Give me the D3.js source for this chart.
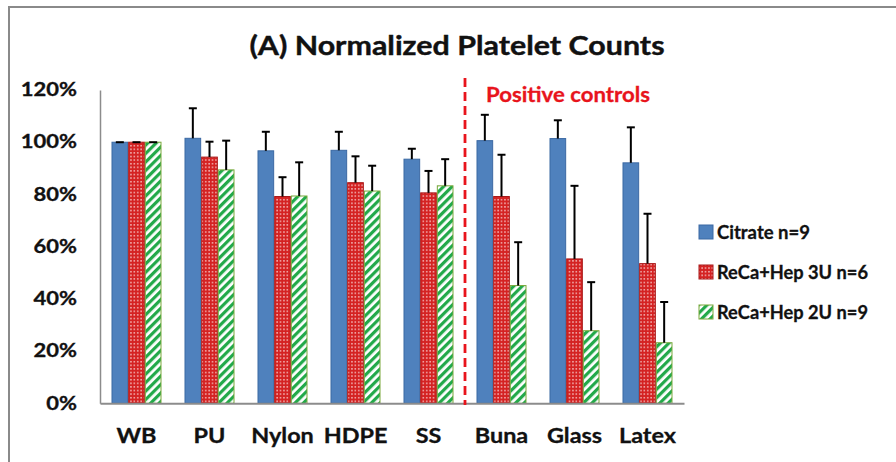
<!DOCTYPE html>
<html><head><meta charset="utf-8">
<script src="https://cdn.jsdelivr.net/npm/d3@7"></script>
<style>html,body{margin:0;padding:0;background:#fff;}svg{display:block;}</style>
</head><body>
<svg id="c" width="896" height="462"></svg>
<script>
const categories = ["WB","PU","Nylon","HDPE","SS","Buna","Glass","Latex"];
const seriesNames = ["Citrate n=9","ReCa+Hep 3U n=6","ReCa+Hep 2U n=9"];
const citrate    = [100,101.5,96.7,96.9,93.5,100.6,101.4,92.1];
const citrateErr = [0,11.5,7.3,7.1,4.0,9.9,7.0,13.6];
const hep3       = [100,94.3,79.2,84.5,80.6,79.2,55.3,53.5];
const hep3Err    = [0,5.9,7.4,10.1,8.4,16.0,28.0,19.1];
const hep2       = [100,89.4,79.4,81.3,83.3,45.1,27.8,23.2];
const hep2Err    = [0,11.2,12.9,9.7,10.2,16.6,18.6,15.6];
const yTicks     = [0,20,40,60,80,100,120];
const positiveStart = "Buna";

const svg = d3.select("#c");
const FONT = "Lato, 'Open Sans', sans-serif";

function widen(sel, k){
  sel.each(function(){
    const w = this.getComputedTextLength();
    d3.select(this).attr("textLength", w*k).attr("lengthAdjust","spacingAndGlyphs");
  });
}
function fitTo(sel, w){ sel.attr("textLength", w).attr("lengthAdjust","spacingAndGlyphs"); }

// patterns
const defs = svg.append("defs");
const pr = defs.append("pattern").attr("id","dots").attr("patternUnits","userSpaceOnUse")
  .attr("width",3.4).attr("height",3.6);
pr.append("rect").attr("width",3.4).attr("height",3.6).attr("fill","#d42222");
pr.append("rect").attr("x",1).attr("y",1).attr("width",1.5).attr("height",1.4).attr("fill","#f6c4c4");
const pg = defs.append("pattern").attr("id","stripes").attr("patternUnits","userSpaceOnUse")
  .attr("width",6).attr("height",6).attr("patternTransform","rotate(45)");
pg.append("rect").attr("width",6).attr("height",6).attr("fill","#ffffff");
pg.append("rect").attr("width",3.2).attr("height",6).attr("fill","#22a94a");

const fills   = ["#4f81bd","url(#dots)","url(#stripes)"];
const strokes = ["#3b69a3","#a81818","#7aa83a"];

// frame
svg.append("line").attr("x1",8).attr("x2",896).attr("y1",7).attr("y2",7).attr("stroke","#8a8a8a").attr("stroke-width",2);
svg.append("line").attr("x1",9).attr("x2",9).attr("y1",6).attr("y2",462).attr("stroke","#8a8a8a").attr("stroke-width",2);

const x = d3.scaleBand().domain(categories).range([100,684]).paddingInner(0.315).paddingOuter(0.1575);
const xs = d3.scaleBand().domain(d3.range(3)).range([0,x.bandwidth()]);
const y = d3.scaleLinear().domain([0,120]).range([403.3,90]);

const vals = [citrate,hep3,hep2];
const errs = [citrateErr,hep3Err,hep2Err];
const data = [];
categories.forEach((c,i)=>{ for(let s=0;s<3;s++) data.push({c, s, v:vals[s][i], e:errs[s][i]}); });

// bars
svg.append("g").selectAll("rect").data(data).join("rect")
  .attr("x", d=>x(d.c)+xs(d.s)+0.5)
  .attr("y", d=>y(d.v))
  .attr("width", xs.bandwidth()-1)
  .attr("height", d=>y(0)-y(d.v))
  .attr("fill", d=>fills[d.s])
  .attr("stroke", d=>strokes[d.s]).attr("stroke-width",1);

// error bars
const eg = svg.append("g").attr("stroke","#000").attr("stroke-width",2);
data.forEach(d=>{
  const cx = x(d.c)+xs(d.s)+xs.bandwidth()/2;
  eg.append("line").attr("x1",cx).attr("x2",cx).attr("y1",y(d.v)).attr("y2",y(d.v+d.e));
  eg.append("line").attr("x1",cx-4).attr("x2",cx+4).attr("y1",y(d.v+d.e)).attr("y2",y(d.v+d.e));
});

// axes
const ya = svg.append("g").attr("transform","translate(100,0)")
  .call(d3.axisLeft(y).tickValues(yTicks).tickSize(0).tickPadding(23).tickFormat(d=>d+"%"));
ya.select(".domain").attr("stroke","#8c8c8c").attr("stroke-width",1.5);
ya.selectAll("text").attr("font-family",FONT).attr("font-weight","bold").attr("font-size",18).attr("fill","#111")
  .attr("stroke","#111").attr("stroke-width",0.3).call(widen,1.22);

const xa = svg.append("g").attr("transform",`translate(0,${y(0)})`)
  .call(d3.axisBottom(x).tickSize(0).tickPadding(26).tickSizeOuter(0));
xa.select(".domain").attr("stroke","#8c8c8c").attr("stroke-width",2);
xa.selectAll("text").attr("font-family",FONT).attr("font-weight","bold").attr("font-size",20).attr("fill","#111")
  .attr("stroke","#111").attr("stroke-width",0.3).call(widen,1.17);

// title
svg.append("text").attr("x",457).attr("y",55).attr("text-anchor","middle")
  .attr("font-family",FONT).attr("font-weight","bold").attr("font-size",26).attr("fill","#111")
  .attr("stroke","#111").attr("stroke-width",0.4)
  .text("(A) Normalized Platelet Counts").call(fitTo,415);

// positive controls divider
const divX = x(positiveStart) - x.step()*x.paddingInner()/2;
svg.append("line").attr("x1",divX).attr("x2",divX).attr("y1",78).attr("y2",405)
  .attr("stroke","#e8141c").attr("stroke-width",2.8).attr("stroke-dasharray","9,5");
svg.append("text").attr("x",486).attr("y",101.5)
  .attr("font-family",FONT).attr("font-weight","bold").attr("font-size",21).attr("fill","#e8141c")
  .attr("stroke","#e8141c").attr("stroke-width",0.3)
  .text("Positive controls").call(fitTo,164);

// legend
const legY = [232,272,312];
const legW = [93,151,151];
const lg = svg.append("g");
seriesNames.forEach((n,i)=>{
  lg.append("rect").attr("x",699).attr("y",legY[i]-7).attr("width",14).attr("height",14)
    .attr("fill",fills[i]).attr("stroke",strokes[i]).attr("stroke-width",1);
  lg.append("text").attr("x",717).attr("y",legY[i]+6.5)
    .attr("font-family",FONT).attr("font-weight","bold").attr("font-size",18).attr("fill","#111")
    .attr("stroke","#111").attr("stroke-width",0.3)
    .text(n).call(fitTo,legW[i]);
});
</script>
</body></html>
